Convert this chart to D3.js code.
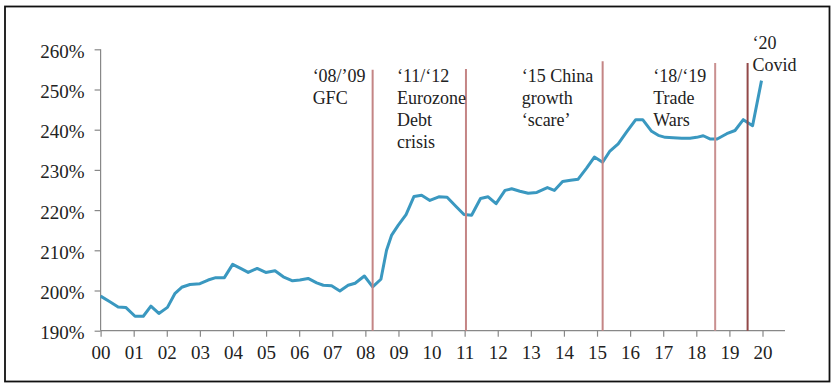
<!DOCTYPE html>
<html>
<head>
<meta charset="utf-8">
<script src="https://cdn.jsdelivr.net/npm/d3@7"></script>
<style>
  html, body { margin: 0; padding: 0; background: #fff; }
  svg { display: block; }
  text { font-family: "Liberation Serif", "Times New Roman", serif; fill: #222; }
</style>
</head>
<body>
<svg id="chart" width="835" height="388"></svg>
<script>
// Time in years since 2000 (fractional), debt-to-GDP ratio in %
const years = [0.00, 0.28, 0.53, 0.76, 1.04, 1.29, 1.52, 1.76, 2.02, 2.25, 2.45, 2.70,
  3.00, 3.25, 3.48, 3.74, 3.99, 4.23, 4.46, 4.73, 4.99, 5.27, 5.52, 5.80, 6.02, 6.27,
  6.53, 6.73, 6.98, 7.23, 7.48, 7.69, 7.97, 8.22, 8.47, 8.64, 8.79, 8.99, 9.23, 9.47,
  9.70, 9.95, 10.22, 10.47, 10.74, 10.98, 11.21, 11.48, 11.71, 11.95, 12.22, 12.42,
  12.67, 12.92, 13.18, 13.50, 13.71, 13.96, 14.20, 14.43, 14.69, 14.92, 15.17, 15.39,
  15.64, 15.89, 16.17, 16.38, 16.65, 16.85, 17.06, 17.30, 17.56, 17.81, 18.01, 18.21,
  18.41, 18.63, 18.92, 19.17, 19.42, 19.70, 19.97];
const values = [198.6, 197.2, 195.9, 195.8, 193.6, 193.6, 196.1, 194.3, 195.8, 199.3, 200.8, 201.5,
  201.7, 202.6, 203.2, 203.2, 206.5, 205.5, 204.5, 205.5, 204.5, 204.9, 203.4, 202.4, 202.6, 203.0,
  201.9, 201.3, 201.2, 199.9, 201.3, 201.8, 203.6, 200.9, 202.8, 210.0, 213.7, 216.2, 218.9, 223.4,
  223.7, 222.4, 223.3, 223.2, 220.9, 218.9, 218.7, 222.9, 223.3, 221.6, 224.9, 225.3,
  224.7, 224.2, 224.4, 225.6, 224.9, 227.1, 227.4, 227.7, 230.5, 233.2, 231.9, 234.7,
  236.5, 239.4, 242.5, 242.5, 239.6, 238.6, 238.1, 238.0, 237.9, 237.9, 238.1, 238.5,
  237.7, 237.7, 239.0, 239.8, 242.5, 241.0, 252.2];

const xTickLabels = ["00","01","02","03","04","05","06","07","08","09","10",
                     "11","12","13","14","15","16","17","18","19","20"];
const yTicks = [190, 200, 210, 220, 230, 240, 250, 260];

// Event markers
const eventYears = [8.22, 11.04, 15.17, 18.57, 19.55];
const eventTops = [254.9, 255.1, 257.0, 256.6, 256.6];
const eventLabels = [
  ["\u201808/\u201909", "GFC"],
  ["\u201811/\u201812", "Eurozone", "Debt", "crisis"],
  ["\u201815 China", "growth", "\u2018scare\u2019"],
  ["\u201818/\u201819", "Trade", "Wars"],
  ["\u201820", "Covid"]
];

const svg = d3.select("#chart");

// Outer frame
svg.append("rect")
  .attr("x", 5).attr("y", 6.5).attr("width", 824.5).attr("height", 375)
  .attr("fill", "none").attr("stroke", "#111").attr("stroke-width", 1.8);

const x = d3.scaleLinear().domain([0, 20.68]).range([100.6, 785]);
const y = d3.scaleLinear().domain([190, 260]).range([330.7, 49.3]);

const axisColor = "#888";

// Y axis
const yAxis = svg.append("g")
  .attr("transform", `translate(${x(0)},0)`)
  .call(d3.axisLeft(y).tickValues(yTicks).tickSize(6).tickPadding(10)
        .tickFormat(d => d + "%"));
yAxis.select(".domain").attr("stroke", axisColor).attr("stroke-width", 1.2)
  .attr("d", `M0,${y(260)}V${y(190)}`);
yAxis.selectAll(".tick line").attr("stroke", axisColor).attr("stroke-width", 1.2);
yAxis.selectAll(".tick text")
  .attr("font-size", 19).attr("font-family", "Liberation Serif, serif")
  .attr("fill", "#222").attr("dy", "0.42em");

// X axis
const xAxis = svg.append("g")
  .attr("transform", `translate(0,${y(190)})`)
  .call(d3.axisBottom(x).tickValues(d3.range(0, 21)).tickSize(6).tickPadding(9)
        .tickFormat(d => xTickLabels[d]));
xAxis.select(".domain").attr("stroke", axisColor).attr("stroke-width", 1.2)
  .attr("d", `M${x(0)},0H${x.range()[1]}`);
xAxis.selectAll(".tick line").attr("stroke", axisColor).attr("stroke-width", 1.2);
xAxis.selectAll(".tick text")
  .attr("font-size", 19).attr("font-family", "Liberation Serif, serif")
  .attr("fill", "#222");

// Data line
const pts = years.map((t, i) => [t, values[i]]);
svg.append("path")
  .datum(pts)
  .attr("fill", "none")
  .attr("stroke", "#3a98c0")
  .attr("stroke-width", 3)
  .attr("stroke-linejoin", "round")
  .attr("d", d3.line().x(d => x(d[0])).y(d => y(d[1])));

// Event lines
const eventColors = ["#c48585", "#c48585", "#c48585", "#c99090", "#924848"];
eventYears.forEach((t, i) => {
  svg.append("line")
    .attr("x1", x(t)).attr("x2", x(t))
    .attr("y1", y(eventTops[i])).attr("y2", y(190))
    .attr("stroke", eventColors[i]).attr("stroke-width", 2);
});

// Event labels (left offset from each marker line, pixels)
const labelOffsets = [-60, -69, -81, -62, 5];
const labelTop = [82.3, 82.3, 82.3, 82.3, 49];
eventLabels.forEach((lines, i) => {
  const t = svg.append("text")
    .attr("x", x(eventYears[i]) + labelOffsets[i])
    .attr("y", labelTop[i])
    .attr("font-size", 18);
  lines.forEach((s, j) => {
    t.append("tspan")
      .attr("x", x(eventYears[i]) + labelOffsets[i])
      .attr("y", labelTop[i] + j * 21.8)
      .text(s);
  });
});
</script>
</body>
</html>
